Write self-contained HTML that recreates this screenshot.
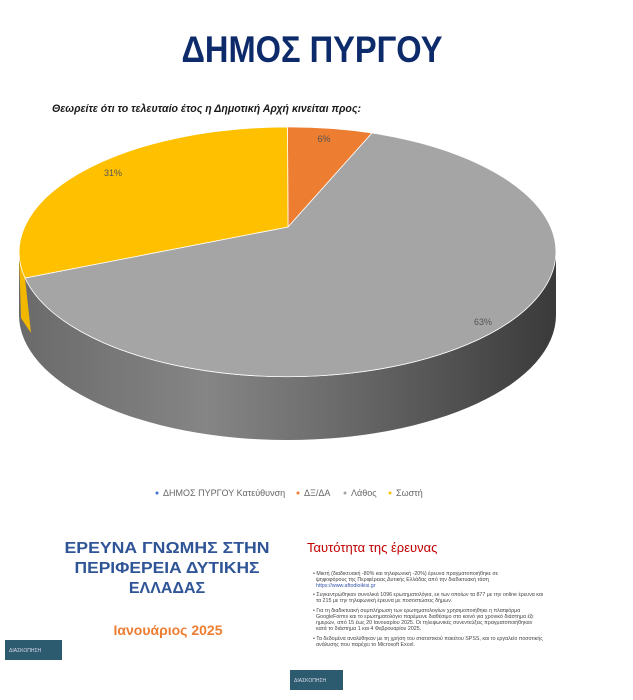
<!DOCTYPE html>
<html><head><meta charset="utf-8"><style>
html,body{margin:0;padding:0;background:#fff;}
svg{display:block;font-family:"Liberation Sans","DejaVu Sans",sans-serif;}
</style></head><body>
<svg width="633" height="700" viewBox="0 0 633 700" xmlns="http://www.w3.org/2000/svg">
<defs>
<linearGradient id="side" x1="0" x2="1" y1="0" y2="0">
<stop offset="0" stop-color="#6a6a6a"/>
<stop offset="0.35" stop-color="#858585"/>
<stop offset="0.6" stop-color="#6a6a6a"/>
<stop offset="1" stop-color="#3a3a3a"/>
</linearGradient>
</defs>
<rect width="633" height="700" fill="#fff"/>
<text x="312" y="62" text-anchor="middle" font-size="37" font-weight="bold" fill="#0d2b6b" textLength="261" lengthAdjust="spacingAndGlyphs">ΔΗΜΟΣ ΠΥΡΓΟΥ</text>
<text x="52" y="112" font-size="11" font-weight="bold" font-style="italic" fill="#1a1a1a" textLength="309" lengthAdjust="spacingAndGlyphs">Θεωρείτε ότι το τελευταίο έτος η Δημοτική Αρχή κινείται προς:</text>
<path d="M19,252 A268.5,125 0 0 0 556,252 L556,315 A268.5,125 0 0 1 19,315 Z" fill="url(#side)"/>
<path d="M19,252 L25,278 L31,333 L21,318 Z" fill="#f2b800"/>
<path d="M288,227 L287.5,127 A268.5,125 0 0 1 372,133 Z" fill="#ed7d31" stroke="#fff" stroke-width="0.8"/>
<path d="M288,227 L372,133 A268.5,125 0 1 1 25,278 Z" fill="#a5a5a5" stroke="#fff" stroke-width="0.8"/>
<path d="M288,227 L25,278 A268.5,125 0 0 1 287.5,127 Z" fill="#ffc000" stroke="#fff" stroke-width="0.8"/>
<g font-size="9" fill="#555">
<text x="324" y="142" text-anchor="middle">6%</text>
<text x="113" y="176" text-anchor="middle">31%</text>
<text x="483" y="325" text-anchor="middle">63%</text>
</g>
<g font-size="9" fill="#666">
<circle cx="157" cy="493" r="1.5" fill="#4472c4"/><text x="163" y="496">ΔΗΜΟΣ ΠΥΡΓΟΥ Κατεύθυνση</text>
<circle cx="298" cy="493" r="1.5" fill="#ed7d31"/><text x="304" y="496">ΔΞ/ΔΑ</text>
<circle cx="345" cy="493" r="1.5" fill="#a5a5a5"/><text x="351" y="496">Λάθος</text>
<circle cx="390" cy="493" r="1.5" fill="#ffc000"/><text x="396" y="496">Σωστή</text>
</g>
<g font-size="16" font-weight="bold" fill="#2f5597" text-anchor="middle">
<text x="167" y="553" textLength="205" lengthAdjust="spacingAndGlyphs">ΕΡΕΥΝΑ ΓΝΩΜΗΣ ΣΤΗΝ</text>
<text x="167" y="573" textLength="185" lengthAdjust="spacingAndGlyphs">ΠΕΡΙΦΕΡΕΙΑ ΔΥΤΙΚΗΣ</text>
<text x="167" y="593">ΕΛΛΑΔΑΣ</text>
</g>
<text x="168" y="635" text-anchor="middle" font-size="14" font-weight="bold" fill="#ed7d31">Ιανουάριος 2025</text>
<rect x="5" y="640" width="57" height="20" fill="#2c5a6e"/>
<text x="9" y="652" font-size="5" fill="#dde">ΔΙΑΣΚΟΠΗΣΗ</text>
<text x="307" y="552" font-size="13" fill="#c00000">Ταυτότητα της έρευνας</text>
<g font-size="5.3" fill="#444">
<text x="313" y="575">• Μικτή (διαδικτυακή -80% και τηλεφωνική -20%) έρευνα πραγματοποιήθηκε σε</text>
<text x="316" y="581">ψηφοφόρους της Περιφέρειας Δυτικής Ελλάδας από την διαδικτυακή τάση</text>
<text x="316" y="587" fill="#3355aa">https://www.aftodioikisi.gr</text>
<text x="313" y="596">• Συγκεντρώθηκαν συνολικά 1096 ερωτηματολόγια, εκ των οποίων τα 877 με την online έρευνα και</text>
<text x="316" y="602">τα 215 με την τηλεφωνική έρευνα με ποσοστώσεις δήμων.</text>
<text x="313" y="612">• Για τη διαδικτυακή συμπλήρωση των ερωτηματολογίων χρησιμοποιήθηκε η πλατφόρμα</text>
<text x="316" y="618">GoogleForms και το ερωτηματολόγιο παρέμεινε διαθέσιμο στο κοινό για χρονικό διάστημα έξι</text>
<text x="316" y="624">ημερών, από 15 έως 20 Ιανουαρίου 2025. Οι τηλεφωνικές συνεντεύξεις πραγματοποιήθηκαν</text>
<text x="316" y="630">κατά το διάστημα 1 και 4 Φεβρουαρίου 2025.</text>
<text x="313" y="640">• Τα δεδομένα αναλύθηκαν με τη χρήση του στατιστικού πακέτου SPSS, και το εργαλείο ποσοτικής</text>
<text x="316" y="646">ανάλυσης που παρέχει το Microsoft Excel.</text>
</g>
<rect x="290" y="670" width="53" height="20" fill="#2c5a6e"/>
<text x="294" y="682" font-size="5" fill="#dde">ΔΙΑΣΚΟΠΗΣΗ</text>
</svg>
</body></html>
